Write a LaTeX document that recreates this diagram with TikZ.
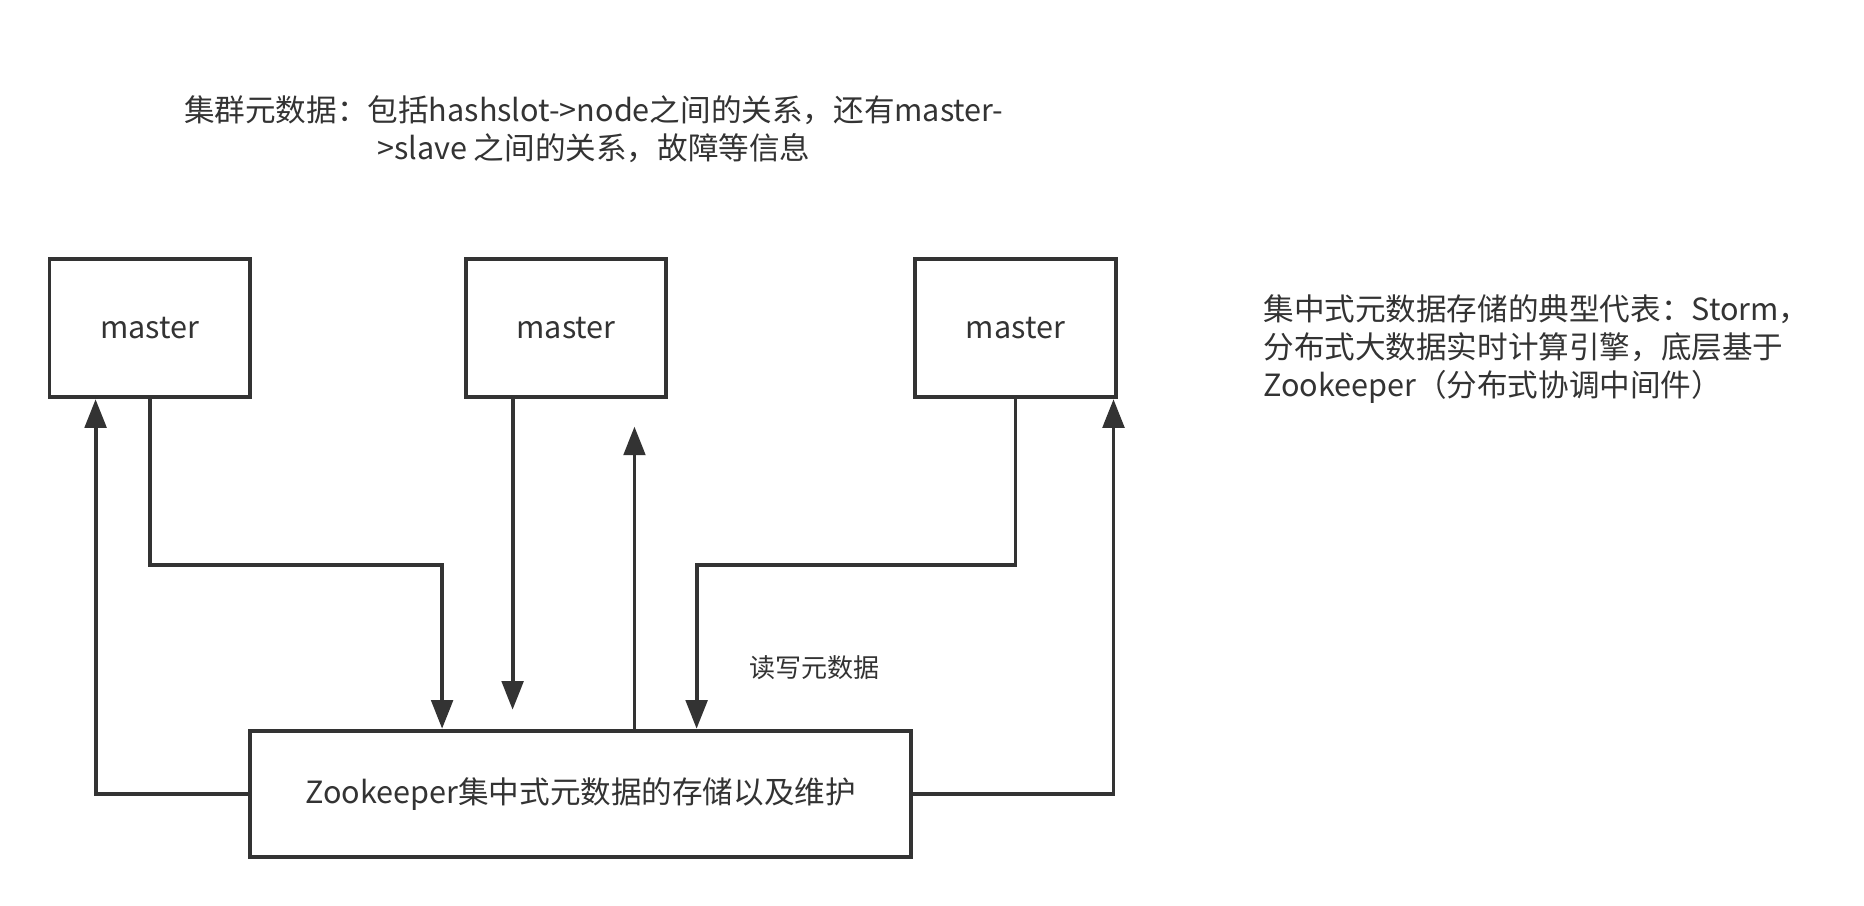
\documentclass[tikz,border=0pt]{standalone}
\usepackage{fontspec}
\setmainfont{Noto Sans CJK SC}
\usetikzlibrary{arrows.meta,positioning}
\definecolor{ink}{HTML}{333333}

\begin{document}
\begin{tikzpicture}[x=0.5pt,y=-0.5pt,
    box/.style={draw=ink,line width=1.6pt,inner sep=0pt,text=ink,
      minimum width=84pt,minimum height=58pt,font=\fontsize{12.8}{16}\selectfont},
    link/.style={draw=ink,line width=1.6pt,-{Triangle[length=12pt,width=9pt]}},
    note/.style={text=ink,inner sep=0pt,font=\fontsize{12.8}{16}\selectfont},
    small note/.style={note,font=\fontsize{10.9}{13}\selectfont}]
  \fill[white] (0,0) rectangle (1560,758);
  \begin{scope}[node distance=88.5pt]
    \node[box] (m1) at (125.5,274.5) {master};
    \node[box] (m2) [right=of m1] {master};
    \node[box] (m3) [right=102.5pt of m2] {master};
    \node[box,minimum width=276.5pt,minimum height=53pt] (zk) at (486,664.5)
      {Zookeeper集中式元数据的存储以及维护};
  \end{scope}
  \node[note,align=center] (meta) at (497,108)
    {集群元数据：包括hashslot->node之间的关系，还有master-\\>slave 之间的关系，故障等信息};
  \node[note,align=left,anchor=west] (storm) at (1057,292)
    {集中式元数据存储的典型代表：Storm，\\分布式大数据实时计算引擎，底层基于\\Zookeeper（分布式协调中间件）};
  \node[small note] (rw) at (682,559) {读写元数据};
  \coordinate (bend) at (0,473);
  \coordinate (m2out) at (429,594);
  \coordinate (zkup) at (531,357);
  \draw[link] (zk.west) -| ([xshift=-22.75pt]m1.south);
  \draw[link] (m1.south) -- (m1.south |- bend) -| ([xshift=-58pt]zk.north);
  \draw[link] (m2.south -| m2out) -- (m2out);
  \draw[link] (zk.north -| zkup) -- (zkup);
  \draw[link] (m3.south) -- (m3.south |- bend) -| ([xshift=48.5pt]zk.north);
  \draw[link] (zk.east) -| ([xshift=41pt]m3.south);
\end{tikzpicture}
\end{document}
